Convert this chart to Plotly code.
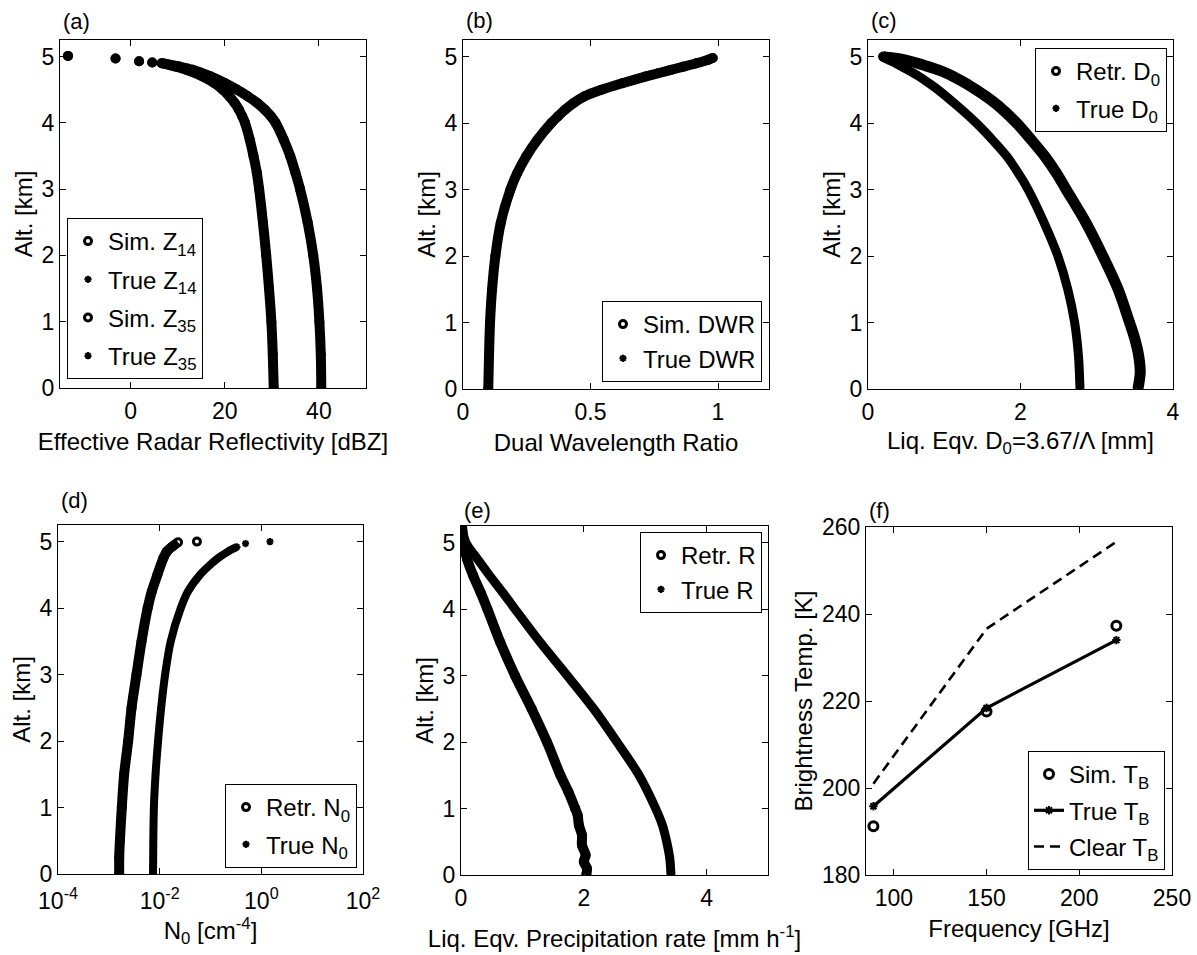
import plotly.graph_objects as go

W, H = 1197, 955

# ---------------- data ----------------
# (a) effective radar reflectivity [dBZ] vs altitude [km]
alt_a = [0.0, 0.5, 1.0, 1.5, 2.0, 2.5, 3.0, 3.25, 3.5, 3.75, 4.0, 4.1, 4.2, 4.3, 4.4, 4.5,
         4.6, 4.7, 4.8, 4.85, 4.9]
z14_sim = [40.5, 40.4, 40.1, 39.6, 38.8, 37.6, 36.0, 35.0, 33.9, 32.5, 30.8, 29.8, 28.5, 26.9, 24.9,
           22.6, 20.0, 17.0, 13.2, 10.3, 6.6]
z14_true = [40.5, 40.4, 40.1, 39.6, 38.8, 37.6, 36.0, 35.0, 33.9, 32.5, 30.8, 29.8, 28.5, 26.9, 24.9,
            22.6, 20.0, 17.0, 13.2, 10.3, 6.6]
z35_sim = [30.4, 30.2, 29.9, 29.4, 28.8, 28.1, 27.3, 26.8, 26.1, 25.3, 24.3, 23.7, 23.0, 22.1, 21.0,
           19.6, 17.8, 15.3, 11.8, 9.4, 6.6]
z35_true = [30.4, 30.2, 29.9, 29.4, 28.8, 28.1, 27.3, 26.8, 26.1, 25.3, 24.3, 23.7, 23.0, 22.1, 21.0,
            19.6, 17.8, 15.3, 11.8, 9.4, 6.6]
alt_a_top = [4.91, 4.93, 4.97, 5.01]          # isolated samples at cloud top
z_top = [4.6, 1.8, -3.2, -13.3]

# (b) dual wavelength ratio
alt_b = [0.0, 0.5, 1.0, 1.5, 2.0, 2.5, 3.0, 3.25, 3.5, 3.75, 4.0, 4.1, 4.2, 4.3, 4.4,
         4.5, 4.6, 4.7, 4.75, 4.8, 4.85, 4.9, 4.95, 4.98]
dwr_sim = [0.099, 0.102, 0.106, 0.114, 0.127, 0.148, 0.186, 0.213, 0.248, 0.292, 0.346, 0.372,
           0.400, 0.433, 0.475, 0.542, 0.625, 0.715, 0.765, 0.815, 0.865, 0.915, 0.96, 0.98]
dwr_true = [0.099, 0.102, 0.106, 0.114, 0.127, 0.148, 0.186, 0.213, 0.248, 0.292, 0.346, 0.372,
            0.400, 0.433, 0.475, 0.542, 0.625, 0.715, 0.765, 0.815, 0.865, 0.915, 0.96, 0.98]

# (c) median volume diameter D0 [mm]
alt_c_retr = [0.0, 0.25, 0.5, 0.75, 1.0, 1.5, 2.0, 2.5, 3.0, 3.25, 3.5, 3.75, 4.0, 4.25, 4.4,
              4.5, 4.6, 4.7, 4.75, 4.8, 4.85, 4.9, 4.95, 4.98, 5.0]
d0_retr = [3.54, 3.57, 3.55, 3.50, 3.43, 3.28, 3.08, 2.86, 2.60, 2.47, 2.32, 2.14, 1.95, 1.72, 1.55,
           1.42, 1.28, 1.12, 1.03, 0.92, 0.79, 0.65, 0.48, 0.33, 0.2]
alt_c_true = [0.0, 0.5, 1.0, 1.5, 2.0, 2.5, 3.0, 3.25, 3.5, 3.75, 4.0, 4.25, 4.5, 4.6, 4.7,
              4.75, 4.8, 4.85, 4.9, 4.95, 5.0]
d0_true = [2.78, 2.76, 2.71, 2.62, 2.49, 2.31, 2.10, 1.97, 1.82, 1.63, 1.42, 1.18, 0.92, 0.80, 0.67,
           0.60, 0.52, 0.44, 0.36, 0.27, 0.18]

# (d) intercept N0 [cm^-4]
alt_d_retr = [0.0, 0.25, 0.5, 1.0, 1.5, 2.0, 2.5, 3.0, 3.5, 4.0, 4.25, 4.5, 4.75, 4.85, 4.93, 4.99]
n0_retr = [0.0016, 0.0016, 0.00165, 0.0018, 0.0020, 0.0024, 0.0028, 0.0035, 0.0044, 0.0058,
           0.0070, 0.0090, 0.0118, 0.0138, 0.018, 0.023]
alt_d_retr_top = [5.0]
n0_retr_top = [0.054]
alt_d_true = [0.0, 0.5, 1.0, 1.5, 2.0, 2.5, 3.0, 3.5, 4.0, 4.25, 4.5, 4.65, 4.75, 4.85, 4.92]
n0_true = [0.0074, 0.0075, 0.0077, 0.0083, 0.0093, 0.0107, 0.0128, 0.0165, 0.026, 0.036,
           0.062, 0.098, 0.14, 0.22, 0.33]
alt_d_true_top = [4.97, 5.0]
n0_true_top = [0.49, 1.48]

# (e) precipitation rate [mm/h]
alt_e_retr = [0.0, 0.1, 0.2, 0.3, 0.45, 0.6, 0.75, 0.9, 1.0, 1.25, 1.5, 2.0, 2.5, 3.0, 3.5,
              4.0, 4.25, 4.5, 4.75, 5.0, 5.22]
r_retr = [2.04, 2.05, 2.00, 2.03, 1.97, 1.97, 1.92, 1.90, 1.86, 1.75, 1.62, 1.40, 1.15, 0.88, 0.64,
          0.43, 0.32, 0.20, 0.10, 0.04, 0.02]
alt_e_true = [0.0, 0.25, 0.5, 0.75, 1.0, 1.5, 2.0, 2.5, 3.0, 3.5, 4.0, 4.25, 4.5, 4.75, 5.0, 5.22]
r_true = [3.42, 3.40, 3.35, 3.28, 3.17, 2.90, 2.54, 2.16, 1.73, 1.29, 0.88, 0.68, 0.47, 0.27, 0.08, 0.02]

# (f) brightness temperatures [K]
freq = [89, 150, 220]
tb_sim = [191.2, 217.6, 237.3]
tb_true = [195.8, 218.4, 234.0]
tb_clear = [201.0, 236.6, 256.6]

# ---------------- layout helpers ----------------
FONT = "Liberation Sans, Arial, sans-serif"
# pixel boxes of the plotting areas: left, right, top, bottom
BOX = {1: (60, 366, 40, 388), 2: (463, 769, 40, 389), 3: (868, 1173, 40, 389),
       4: (58, 363, 525, 874), 5: (461, 768, 526, 875), 6: (866, 1172, 527, 875)}

fig = go.Figure()


def ax(i):
    s = "" if i == 1 else str(i)
    return "x" + s, "y" + s


def leg(i):
    return "legend" if i == 1 else "legend%d" % i


def band(i, x, y, width):
    xa, ya = ax(i)
    fig.add_trace(go.Scatter(x=x, y=y, mode="lines", xaxis=xa, yaxis=ya,
                             line=dict(color="black", width=width, shape="spline", smoothing=0.9),
                             showlegend=False, hoverinfo="skip"))


def marks(i, x, y, name, kind):
    xa, ya = ax(i)
    if kind == "o":
        mk = dict(symbol="circle-open", size=7, color="black", line=dict(width=3, color="black"))
    else:
        mk = dict(symbol="asterisk-open", size=6, color="black", line=dict(width=2, color="black"))
    fig.add_trace(go.Scatter(x=x, y=y, mode="markers", xaxis=xa, yaxis=ya, marker=mk,
                             name=name, legend=leg(i), legendgroup=name))


# (a)
band(1, z14_sim, alt_a, 10)
band(1, z35_sim, alt_a, 10)
marks(1, z14_sim + z_top, alt_a + alt_a_top, "Sim. Z<sub>14</sub>", "o")
marks(1, z14_true + z_top, alt_a + alt_a_top, "True Z<sub>14</sub>", "*")
marks(1, z35_sim + z_top, alt_a + alt_a_top, "Sim. Z<sub>35</sub>", "o")
marks(1, z35_true + z_top, alt_a + alt_a_top, "True Z<sub>35</sub>", "*")
# (b)
band(2, dwr_sim, alt_b, 10)
marks(2, dwr_sim, alt_b, "Sim. DWR", "o")
marks(2, dwr_true, alt_b, "True DWR", "*")
# (c)
band(3, d0_retr, alt_c_retr, 11)
band(3, d0_true, alt_c_true, 9)
marks(3, d0_retr, alt_c_retr, "Retr. D<sub>0</sub>", "o")
marks(3, d0_true, alt_c_true, "True D<sub>0</sub>", "*")
# (d)
band(4, n0_retr, alt_d_retr, 10)
band(4, n0_true, alt_d_true, 8)
marks(4, n0_retr + n0_retr_top, alt_d_retr + alt_d_retr_top, "Retr. N<sub>0</sub>", "o")
marks(4, n0_true + n0_true_top, alt_d_true + alt_d_true_top, "True N<sub>0</sub>", "*")
# (e)
band(5, r_retr, alt_e_retr, 10)
band(5, r_true, alt_e_true, 9)
marks(5, r_retr, alt_e_retr, "Retr. R", "o")
marks(5, r_true, alt_e_true, "True R", "*")
# (f)
fig.add_trace(go.Scatter(x=freq, y=tb_sim, mode="markers", xaxis="x6", yaxis="y6",
                         marker=dict(symbol="circle-open", size=9, color="black",
                                     line=dict(width=3, color="black")),
                         name="Sim. T<sub>B</sub>", legend="legend6", legendgroup="sim_tb"))
fig.add_trace(go.Scatter(x=freq, y=tb_true, mode="lines+markers", xaxis="x6", yaxis="y6",
                         line=dict(color="black", width=3.2),
                         marker=dict(symbol="asterisk-open", size=7, color="black",
                                     line=dict(width=2, color="black")),
                         name="True T<sub>B</sub>", legend="legend6", legendgroup="true_tb"))
fig.add_trace(go.Scatter(x=freq, y=tb_clear, mode="lines", xaxis="x6", yaxis="y6",
                         line=dict(color="black", width=2.6, dash="10px,6px"),
                         name="Clear T<sub>B</sub>", legend="legend6", legendgroup="clear_tb"))

TICKF = dict(family=FONT, size=23, color="black")
TITLEF = dict(family=FONT, size=24, color="black")


def axis_common():
    return dict(showline=True, linecolor="black", linewidth=1.2, mirror="ticks",
                ticks="inside", ticklen=6, tickwidth=1.2, tickcolor="black",
                showgrid=False, zeroline=False, tickfont=TICKF, fixedrange=True,
                automargin=False)


xspec = {
    1: dict(range=[-15, 50], tickvals=[0, 20, 40], title="Effective Radar Reflectivity [dBZ]"),
    2: dict(range=[0, 1.2], tickvals=[0, 0.5, 1], title="Dual Wavelength Ratio"),
    3: dict(range=[0, 4], tickvals=[0, 2, 4], title="Liq. Eqv. D<sub>0</sub>=3.67/Λ [mm]"),
    4: dict(range=[-4, 2], type="log", tickvals=[1e-4, 1e-2, 1, 1e2],
            ticktext=["10<sup>-4</sup>", "10<sup>-2</sup>", "10<sup>0</sup>", "10<sup>2</sup>"],
            title="N<sub>0</sub> [cm<sup>-4</sup>]"),
    5: dict(range=[0, 5], tickvals=[0, 2, 4],
            title="Liq. Eqv. Precipitation rate [mm h<sup>-1</sup>]"),
    6: dict(range=[85, 250], tickvals=[100, 150, 200, 250], title="Frequency [GHz]"),
}
x_standoff = {1: 10, 2: 10, 3: 8, 4: 6, 5: 20, 6: 10}
x_labelpad = {1: 2, 2: 2, 3: 2, 4: 6, 5: 2, 6: 2}
alt_ticks = [0, 1, 2, 3, 4, 5]
yspec = {i: dict(range=[0, 5.25], tickvals=alt_ticks, title="Alt. [km]") for i in range(1, 6)}
yspec[6] = dict(range=[180, 260], tickvals=[180, 200, 220, 240, 260], title="Brightness Temp. [K]")

layout = dict(width=W, height=H, margin=dict(l=0, r=0, t=0, b=0, autoexpand=False),
              paper_bgcolor="white", plot_bgcolor="white",
              font=dict(family=FONT, color="black"), showlegend=True)

for i in range(1, 7):
    l, r, t, b = BOX[i]
    s = "" if i == 1 else str(i)
    xs = dict(xspec[i])
    xt = xs.pop("title")
    xa = axis_common()
    xa.update(xs)
    xa.update(domain=[l / W, r / W], anchor="y" + s, ticklabelstandoff=x_labelpad[i],
              title=dict(text=xt, font=TITLEF, standoff=x_standoff[i]))
    ys = dict(yspec[i])
    yt = ys.pop("title")
    ya = axis_common()
    ya.update(ys)
    ya.update(domain=[1 - b / H, 1 - t / H], anchor="x" + s,
              title=dict(text=yt, font=TITLEF, standoff=2))
    layout["xaxis" + s] = xa
    layout["yaxis" + s] = ya

LEGF = dict(family=FONT, size=24, color="black")
leg_pos = {  # x px, y px, xanchor, yanchor
    1: (67, 218, "left", "top"),
    2: (762, 382, "right", "bottom"),
    3: (1167, 48, "right", "top"),
    4: (357, 868, "right", "bottom"),
    5: (762, 532, "right", "top"),
    6: (1165, 870, "right", "bottom"),
}
leg_gap = {1: 4, 2: 0, 3: 3, 4: 3, 5: 0, 6: 2}
for i, (lx, ly, xan, yan) in leg_pos.items():
    layout[leg(i)] = dict(x=lx / W, y=1 - ly / H, xanchor=xan, yanchor=yan, xref="paper", yref="paper",
                          bgcolor="white", bordercolor="black", borderwidth=1, font=LEGF,
                          tracegroupgap=leg_gap[i], itemclick=False, itemdoubleclick=False)

labels = ["(a)", "(b)", "(c)", "(d)", "(e)", "(f)"]
lab_y = [22, 21, 21, 500, 510, 510]
annotations = []
for i in range(1, 7):
    l, r, t, b = BOX[i]
    annotations.append(dict(text=labels[i - 1], x=(l + 1) / W, y=1 - lab_y[i - 1] / H,
                            xref="paper", yref="paper", xanchor="left", yanchor="middle",
                            showarrow=False, font=dict(family=FONT, size=22, color="black")))
layout["annotations"] = annotations

fig.update_layout(**layout)
fig.write_html("out.html")
